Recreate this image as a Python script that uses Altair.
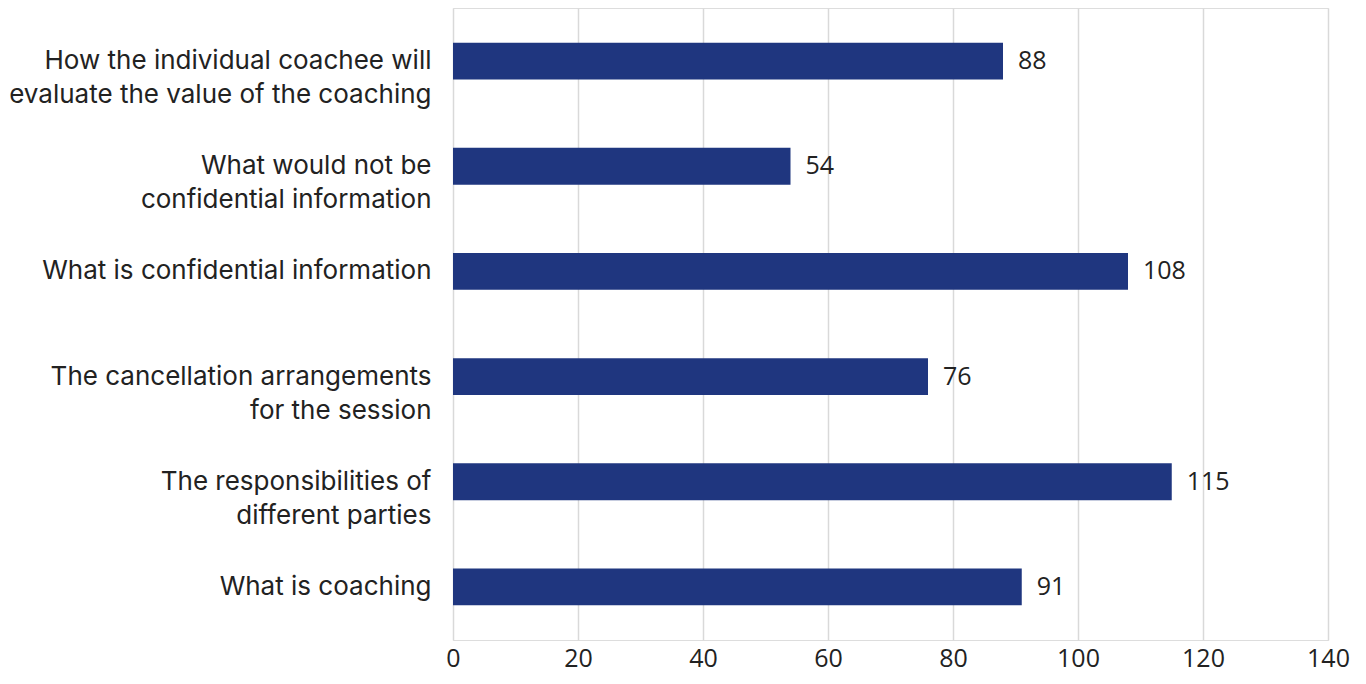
import altair as alt
import pandas as pd

categories = [
    "How the individual coachee will|evaluate the value of the coaching",
    "What would not be|confidential information",
    "What is confidential information",
    "The cancellation arrangements|for the session",
    "The responsibilities of|different parties",
    "What is coaching",
]
values = [88, 54, 108, 76, 115, 91]

df = pd.DataFrame({"category": categories, "value": values})

base = alt.Chart(df).encode(
    y=alt.Y(
        "category:N",
        sort=categories,
        scale=alt.Scale(paddingInner=0.65, paddingOuter=0.33),
        axis=alt.Axis(
            title=None,
            domain=False,
            ticks=False,
            labelExpr="split(datum.label, '|')",
            labelFont="Inter",
            labelFontSize=26,
            labelLineHeight=34,
            labelColor="#222222",
            labelPadding=22,
            labelLimit=600,
        ),
    ),
    x=alt.X(
        "value:Q",
        scale=alt.Scale(domain=[0, 140], nice=False),
        axis=alt.Axis(
            title=None,
            values=[0, 20, 40, 60, 80, 100, 120, 140],
            domain=False,
            ticks=False,
            grid=True,
            gridColor="#d9d9d9",
            gridWidth=1.5,
            labelFont="Open Sans",
            labelFontSize=25,
            labelColor="#222222",
            labelPadding=6,
            labelFlush=False,
            labelOverlap=False,
        ),
    ),
)

bars = base.mark_bar(color="#1F367F")
text = base.mark_text(
    align="left", baseline="middle", dx=15, font="Open Sans", fontSize=25, color="#222222"
).encode(text="value:Q")

chart = (
    (bars + text)
    .properties(width=875, height=632)
    .configure_view(stroke=None)
    .configure(padding={"left": 0, "top": 0, "right": 5, "bottom": 5})
)

chart.save("out.html", embed_options={"renderer": "svg", "actions": False})
